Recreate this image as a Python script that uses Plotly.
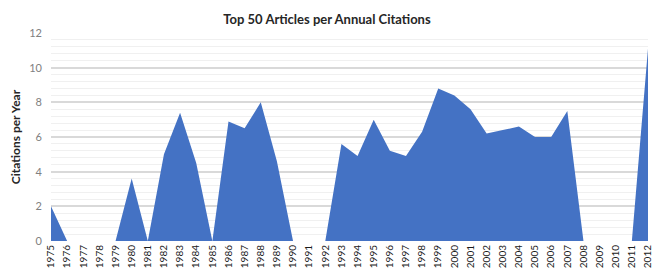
import plotly.graph_objects as go

years = list(range(1975, 2013))
citations = [2.0, 0, 0, 0, 0, 3.6, 0, 5.0, 7.4, 4.5,
             0, 6.9, 6.5, 8.0, 4.6, 0, 0, 0, 5.6, 4.9,
             7.0, 5.2, 4.9, 6.3, 8.8, 8.4, 7.6, 6.2, 6.4, 6.6,
             6.0, 6.0, 7.5, 0, 0, 0, 0, 11.1]
tick_labels = [str(y) for y in years]

fig = go.Figure()
fig.add_trace(go.Scatter(
    x=years, y=citations, mode="lines", fill="tozeroy",
    line=dict(width=0, color="#4472C4"), fillcolor="#4472C4",
    hoverinfo="x+y", showlegend=False))

font_family = "Lato, Carlito, 'Open Sans', sans-serif"
fig.update_layout(
    width=654, height=271,
    margin=dict(l=51, r=6, t=33, b=30, autoexpand=False),
    paper_bgcolor="white", plot_bgcolor="white",
    title=dict(text="<b>Top 50 Articles per Annual Citations</b>",
               x=0.5, xanchor="center", y=0.93, yanchor="middle",
               font=dict(family=font_family, size=13, color="#262626")),
    font=dict(family=font_family),
    xaxis=dict(range=[1975, 2012], tickmode="array", tickvals=years,
               ticktext=tick_labels, tickangle=-90, showgrid=False,
               zeroline=False, showline=False, ticks="", automargin=False,
               tickfont=dict(family=font_family, size=10, color="#1a1a1a"),
               ticklabelstandoff=1),
    yaxis=dict(range=[0, 12], dtick=2, showgrid=True, gridcolor="#d9d9d9",
               gridwidth=1.5, zeroline=False, showline=False, ticks="",
               automargin=False,
               tickfont=dict(family=font_family, size=11, color="#808080"),
               ticklabelstandoff=8,
               minor=dict(dtick=0.4, showgrid=True, gridcolor="#f0f0f0", gridwidth=1),
               title=dict(text="<b>Citations per Year</b>", standoff=6,
                          font=dict(family=font_family, size=12, color="#262626"))),
)

fig.write_html("out.html", config={"displayModeBar": False},
               post_script="document.body.style.margin='0';")
